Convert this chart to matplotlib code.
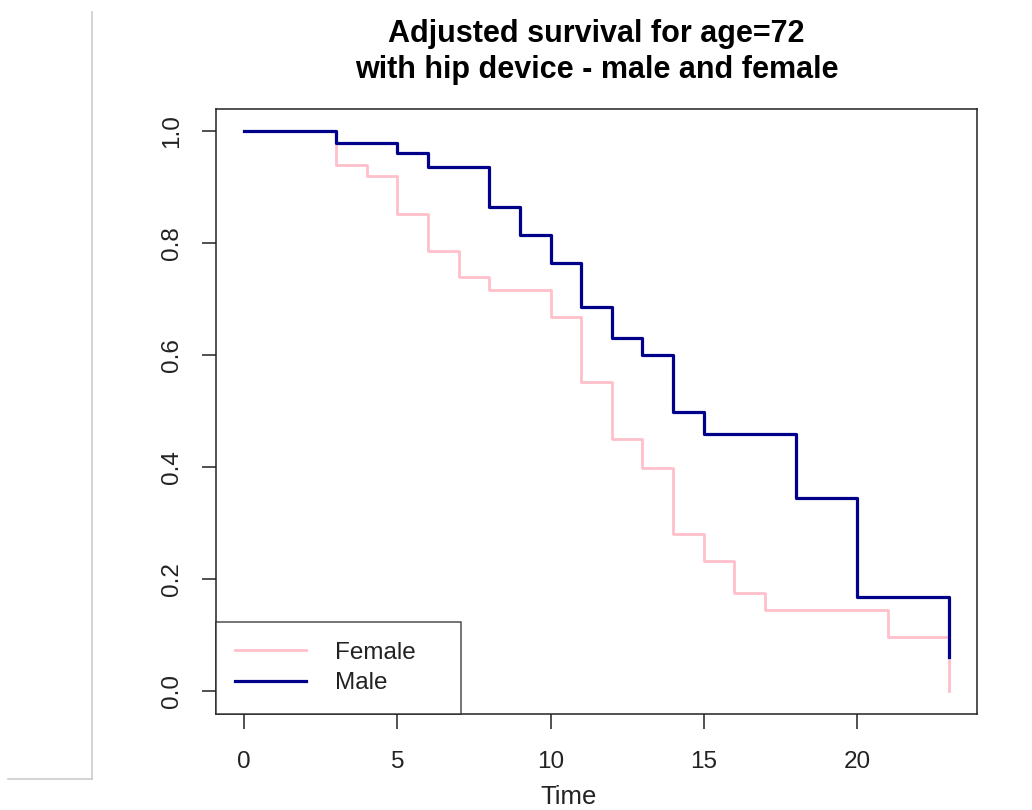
import matplotlib
matplotlib.use("Agg")
import matplotlib.pyplot as plt
from matplotlib.lines import Line2D

plt.rcParams['font.family'] = ['Liberation Sans', 'DejaVu Sans']

# survival curves
female_times = [0, 3, 4, 5, 6, 7, 8, 10, 11, 12, 13, 14, 15, 16, 17, 21, 23]
female_surv = [1.0, 0.940, 0.920, 0.852, 0.785, 0.740, 0.716, 0.668, 0.552,
               0.450, 0.399, 0.280, 0.233, 0.176, 0.145, 0.097, 0.0]
male_times = [0, 3, 5, 6, 8, 9, 10, 11, 12, 13, 14, 15, 18, 20, 23]
male_surv = [1.0, 0.979, 0.960, 0.936, 0.864, 0.814, 0.765, 0.685, 0.631,
             0.600, 0.498, 0.459, 0.345, 0.168, 0.061]
x_ticks = [0, 5, 10, 15, 20]
y_ticks = [0.0, 0.2, 0.4, 0.6, 0.8, 1.0]

W, H = 1032, 810
fig = plt.figure(figsize=(W / 100, H / 100), dpi=100)
ax = fig.add_axes([216 / W, 1 - 713.5 / H, (977 - 216) / W, (713.5 - 108.6) / H])

ax.step(female_times, female_surv, where='post', color='#FFC0CB', lw=2.0, label='Female')
ax.step(male_times, male_surv, where='post', color='#00008B', lw=2.3, label='Male')

ax.set_xlim(-0.92, 23.92)
ax.set_ylim(-0.04, 1.04)
ax.set_xticks(x_ticks)
ax.set_xticklabels([str(t) for t in x_ticks])
ax.set_yticks(y_ticks)
ax.set_yticklabels(['%.1f' % v for v in y_ticks], rotation=90, va='center')

for s in ax.spines.values():
    s.set_linewidth(1.1)
    s.set_color('#222222')
ax.tick_params(axis='x', length=11, width=1.1, color='#222222', pad=16, labelsize=17.5, labelcolor='#222222')
ax.tick_params(axis='y', length=10, width=1.1, color='#222222', pad=14, labelsize=17.5, labelcolor='#222222')

ax.set_title('Adjusted survival for age=72\nwith hip device - male and female',
             fontsize=22, fontweight='bold', pad=22, linespacing=1.25)
fig.text(569 / W, 1 - 797 / H, 'Time', ha='center', va='center', fontsize=18.5, color='#222222')

leg = ax.legend(loc='lower left', bbox_to_anchor=(0, 0, (461 - 216) / (977 - 216), 0.2),
                mode='expand', borderaxespad=0, fancybox=False, fontsize=17.5,
                handlelength=2.9, handletextpad=1.2, borderpad=0.8, labelspacing=0.35)
leg.get_frame().set_edgecolor('#222222')
leg.get_frame().set_linewidth(1.1)
for t in leg.get_texts():
    t.set_color('#222222')

# screenshot border lines on the left
fig.add_artist(Line2D([92 / W, 92 / W], [1 - 12 / H, 1 - 779 / H], color='#cccccc', lw=1.2))
fig.add_artist(Line2D([8 / W, 92 / W], [1 - 779 / H, 1 - 779 / H], color='#cccccc', lw=1.2))

fig.savefig('out.png', dpi=100)
